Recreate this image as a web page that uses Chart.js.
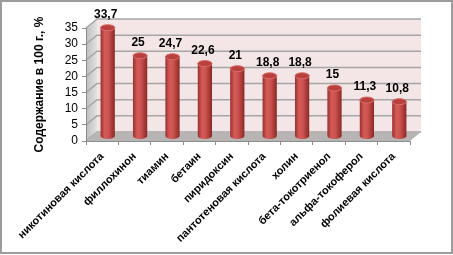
<!DOCTYPE html>
<html>
<head>
<meta charset="utf-8">
<script src="https://cdn.jsdelivr.net/npm/chart.js@4"></script>
<style>
  html, body { margin: 0; padding: 0; background: #fff; }
  #wrap { width: 453px; height: 255px; }
</style>
</head>
<body>
<div id="wrap"><canvas id="c" width="453" height="255"></canvas></div>
<script>
const categories = ['никотиновая кислота', 'филлохинон', 'тиамин', 'бетаин', 'пиридоксин',
    'пантотеновая кислота', 'холин', 'бета-токотриенол', 'альфа-токоферол', 'фолиевая кислота'];
const values = [33.7, 25, 24.7, 22.6, 21, 18.8, 18.8, 15, 11.3, 10.8];
const yMax = 35;
const yStep = 5;
const yTitle = 'Содержание в 100 г., %';

// смещение "глубины" для псевдо-3D
const DX = 11, DY = -9;

const wall3d = {
    id: 'wall3d',
    beforeDraw: (chart) => {
        const { ctx, chartArea: a, scales } = chart;
        ctx.save();
        // рамка
        ctx.strokeStyle = '#9c9c9c';
        ctx.lineWidth = 2;
        ctx.strokeRect(1, 1, 451, 252);

        // задняя стенка
        ctx.fillStyle = '#f4e6e6';
        ctx.fillRect(a.left + DX, a.top + DY, a.right - a.left, a.bottom - a.top);

        // боковая стенка
        const g = ctx.createLinearGradient(a.left, 0, a.left + DX, 0);
        g.addColorStop(0, '#bdbdbd');
        g.addColorStop(1, '#e2e2e2');
        ctx.fillStyle = g;
        ctx.beginPath();
        ctx.moveTo(a.left, a.top);
        ctx.lineTo(a.left + DX, a.top + DY);
        ctx.lineTo(a.left + DX, a.bottom + DY);
        ctx.lineTo(a.left, a.bottom);
        ctx.closePath();
        ctx.fill();

        // линии сетки
        ctx.strokeStyle = '#a6a6a6';
        ctx.lineWidth = 1.5;
        for (let v = 0; v <= yMax; v += yStep) {
            const y = scales.y.getPixelForValue(v);
            ctx.beginPath();
            ctx.moveTo(a.left, y);
            ctx.lineTo(a.left + DX, y + DY);
            ctx.lineTo(a.right + DX, y + DY);
            ctx.stroke();
        }

        // пол
        ctx.fillStyle = '#b8b4b4';
        ctx.beginPath();
        ctx.moveTo(a.left, a.bottom);
        ctx.lineTo(a.left + DX, a.bottom + DY);
        ctx.lineTo(a.right + DX, a.bottom + DY);
        ctx.lineTo(a.right, a.bottom);
        ctx.closePath();
        ctx.fill();
        ctx.restore();
    }
};

const cylinders = {
    id: 'cylinders',
    afterDatasetsDraw: (chart) => {
        const { ctx } = chart;
        const meta = chart.getDatasetMeta(0);
        ctx.save();
        meta.data.forEach((el, i) => {
            const cx = el.x + DX / 2;
            const top = el.y + DY / 2;
            const base = el.base + DY / 2;
            const rx = el.width / 2;
            const ry = 3;
            const x0 = cx - rx, x1 = cx + rx;

            const g = ctx.createLinearGradient(x0, 0, x1, 0);
            g.addColorStop(0, '#9a302e');
            g.addColorStop(0.3, '#d45b58');
            g.addColorStop(0.55, '#cc5350');
            g.addColorStop(1, '#8c2826');
            ctx.fillStyle = g;
            ctx.beginPath();
            ctx.moveTo(x0, top);
            ctx.lineTo(x0, base);
            ctx.ellipse(cx, base, rx, ry, 0, Math.PI, 0, true);
            ctx.lineTo(x1, top);
            ctx.closePath();
            ctx.fill();

            // верхняя крышка
            ctx.fillStyle = '#b8403d';
            ctx.beginPath();
            ctx.ellipse(cx, top, rx, ry, 0, 0, Math.PI * 2);
            ctx.fill();
            ctx.strokeStyle = '#d96c69';
            ctx.lineWidth = 1;
            ctx.stroke();

            // подпись значения
            ctx.fillStyle = '#000';
            ctx.font = 'bold 12px "Liberation Sans", Arial, sans-serif';
            ctx.textAlign = 'center';
            ctx.textBaseline = 'bottom';
            ctx.fillText(String(values[i]).replace('.', ','), cx - 2, top - ry - 4);
        });
        ctx.restore();
    }
};

const config = {
    type: 'bar',
    data: {
        labels: categories,
        datasets: [{
            data: values,
            backgroundColor: 'rgba(0,0,0,0)',
            borderWidth: 0,
            barPercentage: 0.44,
            categoryPercentage: 1
        }]
    },
    options: {
        responsive: false,
        animation: false,
        events: [],
        layout: { padding: { left: 0, top: 28, right: 43, bottom: 0 } },
        plugins: {
            legend: { display: false },
            tooltip: { enabled: false },
            title: { display: false }
        },
        scales: {
            x: {
                afterFit: (s) => { s.height = 114; },
                grid: { display: true, drawOnChartArea: false, offset: true, tickLength: 4, color: '#8c8c8c' },
                border: { display: true, color: '#8c8c8c' },
                ticks: {
                    autoSkip: false,
                    maxRotation: 45,
                    minRotation: 45,
                    padding: 5,
                    color: '#000',
                    font: { family: '"Liberation Sans", Arial, sans-serif', size: 11, weight: 'bold' }
                }
            },
            y: {
                min: 0,
                max: yMax,
                afterFit: (s) => { s.width = 86; },
                grid: { display: true, drawOnChartArea: false, tickLength: 4, color: '#8c8c8c' },
                border: { display: true, color: '#8c8c8c' },
                ticks: {
                    stepSize: yStep,
                    autoSkip: false,
                    padding: 4,
                    color: '#000',
                    font: { family: '"Liberation Sans", Arial, sans-serif', size: 12 }
                },
                title: {
                    display: true,
                    text: yTitle,
                    color: '#000',
                    padding: { top: 32, bottom: 0 },
                    font: { family: '"Liberation Sans", Arial, sans-serif', size: 12, weight: 'bold' }
                }
            }
        }
    },
    plugins: [wall3d, cylinders]
};

new Chart(document.getElementById('c'), config);
</script>
</body>
</html>
